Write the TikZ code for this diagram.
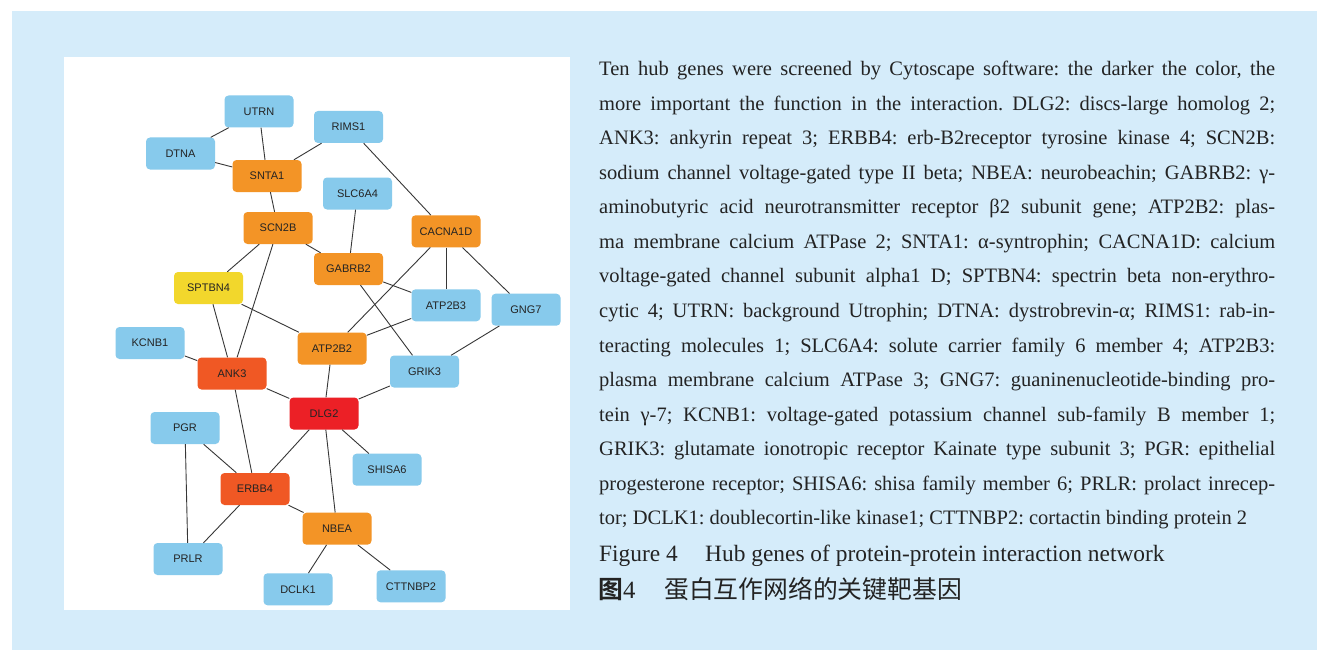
\documentclass[tikz,border=0pt]{standalone}
\usepackage{fontspec}
\setmainfont{Liberation Serif}
\newfontfamily\nodefont{Liberation Sans}
\newfontfamily\cjk{Noto Sans CJK SC}
\newfontfamily\cjkbold{Noto Sans CJK SC Bold}
\frenchspacing
\definecolor{panelblue}{RGB}{213,236,250}
\definecolor{genblue}{RGB}{135,202,236}
\definecolor{genorange}{RGB}{243,148,38}
\definecolor{genred}{RGB}{240,88,36}
\definecolor{genhub}{RGB}{236,32,38}
\definecolor{genyellow}{RGB}{242,215,44}
\definecolor{edgegray}{RGB}{55,55,55}
\definecolor{txtgray}{RGB}{35,35,35}
\newcommand{\jline}[1]{\makebox[676pt][s]{#1}}
\tikzset{
  gene/.style={rectangle, rounded corners=4pt, minimum width=69pt, minimum height=32pt,
    inner sep=0pt, font=\nodefont\fontsize{11}{13}\selectfont, text=txtgray},
  gb/.style={gene, fill=genblue},
  go/.style={gene, fill=genorange},
  gr/.style={gene, fill=genred},
  gh/.style={gene, fill=genhub},
  gy/.style={gene, fill=genyellow},
  edge/.style={draw=edgegray, line width=0.9pt},
  bodyline/.style={anchor=base west, inner sep=0pt, font=\fontsize{20.5}{24}\selectfont, text=txtgray},
  caplinestyle/.style={anchor=base west, inner sep=0pt, font=\fontsize{23.4}{27}\selectfont, text=txtgray}
}
\begin{document}
\begin{tikzpicture}[x=1pt,y=-1pt]
\useasboundingbox (0,0) rectangle (1317,650);
\fill[white] (0,0) rectangle (1317,650);
\fill[panelblue] (12,11) rectangle (1317,650);
\fill[white] (64,57) rectangle (570,610);

% nodes
\node[gb] (UTRN) at (259,111.5) {UTRN};
\node[gb] (RIMS1) at (348.5,127) {RIMS1};
\node[gb] (DTNA) at (180.5,153.5) {DTNA};
\node[go] (SNTA1) at (267,176) {SNTA1};
\node[gb] (SLC6A4) at (357.5,193.5) {SLC6A4};
\node[go] (SCN2B) at (278,228) {SCN2B};
\node[go] (CACNA1D) at (446,231.3) {CACNA1D};
\node[go] (GABRB2) at (348.5,269) {GABRB2};
\node[gy] (SPTBN4) at (208.5,288) {SPTBN4};
\node[gb] (ATP2B3) at (446,305.3) {ATP2B3};
\node[gb] (GNG7) at (526,309.7) {GNG7};
\node[gb] (KCNB1) at (150,343) {KCNB1};
\node[go] (ATP2B2) at (332,348.5) {ATP2B2};
\node[gr] (ANK3) at (232,373.5) {ANK3};
\node[gb] (GRIK3) at (424.5,371.5) {GRIK3};
\node[gh] (DLG2) at (324,413.5) {DLG2};
\node[gb] (PGR) at (185,428) {PGR};
\node[gb] (SHISA6) at (387,469.7) {SHISA6};
\node[gr] (ERBB4) at (255,489) {ERBB4};
\node[go] (NBEA) at (337,528.7) {NBEA};
\node[gb] (PRLR) at (188,559) {PRLR};
\node[gb] (DCLK1) at (298,589.3) {DCLK1};
\node[gb] (CTTNBP2) at (411,586.3) {CTTNBP2};

% edges
\draw[edge] (UTRN) -- (DTNA);
\draw[edge] (UTRN) -- (SNTA1);
\draw[edge] (DTNA) -- (SNTA1);
\draw[edge] (RIMS1) -- (SNTA1);
\draw[edge] (RIMS1) -- (CACNA1D);
\draw[edge] (SNTA1) -- (SCN2B);
\draw[edge] (SLC6A4) -- (GABRB2);
\draw[edge] (SCN2B) -- (GABRB2);
\draw[edge] (SCN2B) -- (SPTBN4);
\draw[edge] (SCN2B) -- (ANK3);
\draw[edge] (CACNA1D) -- (ATP2B3);
\draw[edge] (CACNA1D) -- (GNG7);
\draw[edge] (CACNA1D) -- (ATP2B2);
\draw[edge] (GABRB2) -- (ATP2B3);
\draw[edge] (GABRB2) -- (GRIK3);
\draw[edge] (SPTBN4) -- (ANK3);
\draw[edge] (SPTBN4) -- (ATP2B2);
\draw[edge] (ATP2B2) -- (ATP2B3);
\draw[edge] (GNG7) -- (GRIK3);
\draw[edge] (KCNB1) -- (ANK3);
\draw[edge] (ANK3) -- (DLG2);
\draw[edge] (ANK3) -- (ERBB4);
\draw[edge] (ATP2B2) -- (DLG2);
\draw[edge] (GRIK3) -- (DLG2);
\draw[edge] (DLG2) -- (ERBB4);
\draw[edge] (DLG2) -- (SHISA6);
\draw[edge] (DLG2) -- (NBEA);
\draw[edge] (PGR) -- (ERBB4);
\draw[edge] (PGR) -- (PRLR);
\draw[edge] (ERBB4) -- (PRLR);
\draw[edge] (ERBB4) -- (NBEA);
\draw[edge] (NBEA) -- (DCLK1);
\draw[edge] (NBEA) -- (CTTNBP2);

% text
\node[bodyline] (l1) at (599,75.7) {\jline{Ten hub genes were screened by Cytoscape software: the darker the color, the}};
\node[bodyline] (l2) at (599,110.2) {\jline{more important the function in the interaction. DLG2: discs-large homolog 2;}};
\node[bodyline] (l3) at (599,144.8) {\jline{ANK3: ankyrin repeat 3; ERBB4: erb-B2receptor tyrosine kinase 4; SCN2B:}};
\node[bodyline] (l4) at (599,179.3) {\jline{sodium channel voltage-gated type II beta; NBEA: neurobeachin; GABRB2: γ-}};
\node[bodyline] (l5) at (599,213.9) {\jline{aminobutyric acid neurotransmitter receptor β2 subunit gene; ATP2B2: plas-}};
\node[bodyline] (l6) at (599,248.4) {\jline{ma membrane calcium ATPase 2; SNTA1: α-syntrophin; CACNA1D: calcium}};
\node[bodyline] (l7) at (599,282.9) {\jline{voltage-gated channel subunit alpha1 D; SPTBN4: spectrin beta non-erythro-}};
\node[bodyline] (l8) at (599,317.5) {\jline{cytic 4; UTRN: background Utrophin; DTNA: dystrobrevin-α; RIMS1: rab-in-}};
\node[bodyline] (l9) at (599,352.0) {\jline{teracting molecules 1; SLC6A4: solute carrier family 6 member 4; ATP2B3:}};
\node[bodyline] (l10) at (599,386.6) {\jline{plasma membrane calcium ATPase 3; GNG7: guaninenucleotide-binding pro-}};
\node[bodyline] (l11) at (599,421.1) {\jline{tein γ-7; KCNB1: voltage-gated potassium channel sub-family B member 1;}};
\node[bodyline] (l12) at (599,455.6) {\jline{GRIK3: glutamate ionotropic receptor Kainate type subunit 3; PGR: epithelial}};
\node[bodyline] (l13) at (599,490.2) {\jline{progesterone receptor; SHISA6: shisa family member 6; PRLR: prolact inrecep-}};
\node[bodyline] (l14) at (599,524.7) {tor; DCLK1: doublecortin-like kinase1; CTTNBP2: cortactin binding protein 2};
\node[caplinestyle] (cap1) at (599,561.5) {Figure 4};
\node[caplinestyle] (cap2) at (705,561.5) {Hub genes of protein-protein interaction network};
\node[anchor=base west, inner sep=0pt, font=\fontsize{24.8}{28}\selectfont, text=txtgray] (cap3) at (598,598) {{\cjkbold 图}4};
\node[anchor=base west, inner sep=0pt, font=\cjk\fontsize{24.8}{28}\selectfont, text=txtgray] (cap4) at (664,598) {蛋白互作网络的关键靶基因};
\end{tikzpicture}
\end{document}
